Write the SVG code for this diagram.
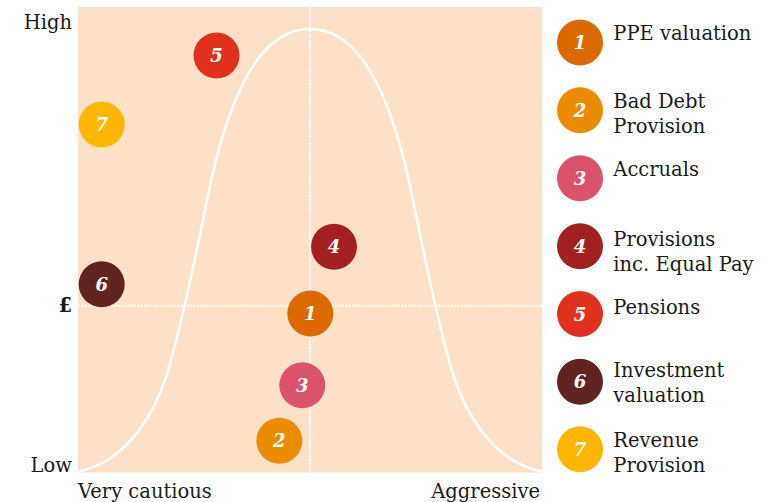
<svg xmlns="http://www.w3.org/2000/svg" width="769" height="502" viewBox="0 0 769 502">
  <style>
    .lbl { font-family: "DejaVu Serif", "Liberation Serif", serif; font-size: 19.5px; fill: #1a1a1a; }
    .num { font-family: "DejaVu Serif", "Liberation Serif", serif; font-size: 18px; font-weight: bold; font-style: italic; fill: #ffffff; text-anchor: middle; }
    .guide { stroke: #ffffff; stroke-width: 2; stroke-dasharray: 2 1.3; fill: none; }
    .c1 { fill: #DC6900; } .c2 { fill: #EB8C00; } .c3 { fill: #DB536A; } .c4 { fill: #A32020; }
    .c5 { fill: #E0301E; } .c6 { fill: #602320; } .c7 { fill: #FFB600; }
  </style>
  <rect width="769" height="502" fill="#ffffff"/>
  <rect id="plot" x="78" y="7" width="464" height="465.5" fill="#FEE0C6"/>

  <g id="axis-labels">
    <text class="lbl" x="72" y="29.3" text-anchor="end">High</text>
    <text class="lbl" x="72" y="311.7" text-anchor="end" font-weight="bold">£</text>
    <text class="lbl" x="72" y="472" text-anchor="end">Low</text>
    <text class="lbl" x="78" y="498">Very cautious</text>
    <text class="lbl" x="540" y="498" text-anchor="end">Aggressive</text>
  </g>

  <g id="connectors">
    <line class="guide" x1="310" y1="7" x2="310" y2="472.5"/>
    <line class="guide" x1="78" y1="305.7" x2="542" y2="305.7"/>
    <path id="bell-curve" fill="none" stroke="#ffffff" stroke-width="2.5" d="M78,471.5 C133,460.5 158,401.8 166,377 C178,339.8 197,250 207,200 C237,50 280,29 310,29 C340,29 383,50 413,200 C423,250 442,339.8 454,377 C462,401.8 487,460.5 542,471.5"/>
  </g>

  <g id="point-1"><circle class="c1" cx="310.3" cy="313.5" r="23"/><text class="num" x="310.3" y="320">1</text></g>
  <g id="point-2"><circle class="c2" cx="279.3" cy="440.7" r="23"/><text class="num" x="279.3" y="447.2">2</text></g>
  <g id="point-3"><circle class="c3" cx="302.3" cy="385.3" r="23"/><text class="num" x="302.3" y="391.8">3</text></g>
  <g id="point-4"><circle class="c4" cx="334" cy="246.7" r="23"/><text class="num" x="334" y="253.2">4</text></g>
  <g id="point-5"><circle class="c5" cx="216.5" cy="55.5" r="23"/><text class="num" x="216.5" y="62">5</text></g>
  <g id="point-6"><circle class="c6" cx="101.7" cy="284.3" r="23"/><text class="num" x="101.7" y="290.8">6</text></g>
  <g id="point-7"><circle class="c7" cx="101.7" cy="124.5" r="23"/><text class="num" x="101.7" y="131">7</text></g>

  <g id="legend-1"><circle class="c1" cx="580" cy="42.5" r="23"/><text class="num" x="580" y="49">1</text>
    <text class="lbl" x="613.3" y="39.5">PPE valuation</text></g>
  <g id="legend-2"><circle class="c2" cx="580" cy="110.3" r="23"/><text class="num" x="580" y="116.8">2</text>
    <text class="lbl" x="613.3" y="108.3">Bad Debt</text><text class="lbl" x="613.3" y="133.3">Provision</text></g>
  <g id="legend-3"><circle class="c3" cx="580" cy="178.3" r="23"/><text class="num" x="580" y="184.8">3</text>
    <text class="lbl" x="613.3" y="175.5">Accruals</text></g>
  <g id="legend-4"><circle class="c4" cx="580" cy="246.3" r="23"/><text class="num" x="580" y="252.8">4</text>
    <text class="lbl" x="613.3" y="245.5">Provisions</text><text class="lbl" x="613.3" y="270.5">inc. Equal Pay</text></g>
  <g id="legend-5"><circle class="c5" cx="580" cy="314" r="23"/><text class="num" x="580" y="320.5">5</text>
    <text class="lbl" x="613.3" y="313.7">Pensions</text></g>
  <g id="legend-6"><circle class="c6" cx="580" cy="381.7" r="23"/><text class="num" x="580" y="388.2">6</text>
    <text class="lbl" x="613.3" y="376.7">Investment</text><text class="lbl" x="613.3" y="401.7">valuation</text></g>
  <g id="legend-7"><circle class="c7" cx="580" cy="449.3" r="23"/><text class="num" x="580" y="455.8">7</text>
    <text class="lbl" x="613.3" y="446.7">Revenue</text><text class="lbl" x="613.3" y="471.7">Provision</text></g>
</svg>
